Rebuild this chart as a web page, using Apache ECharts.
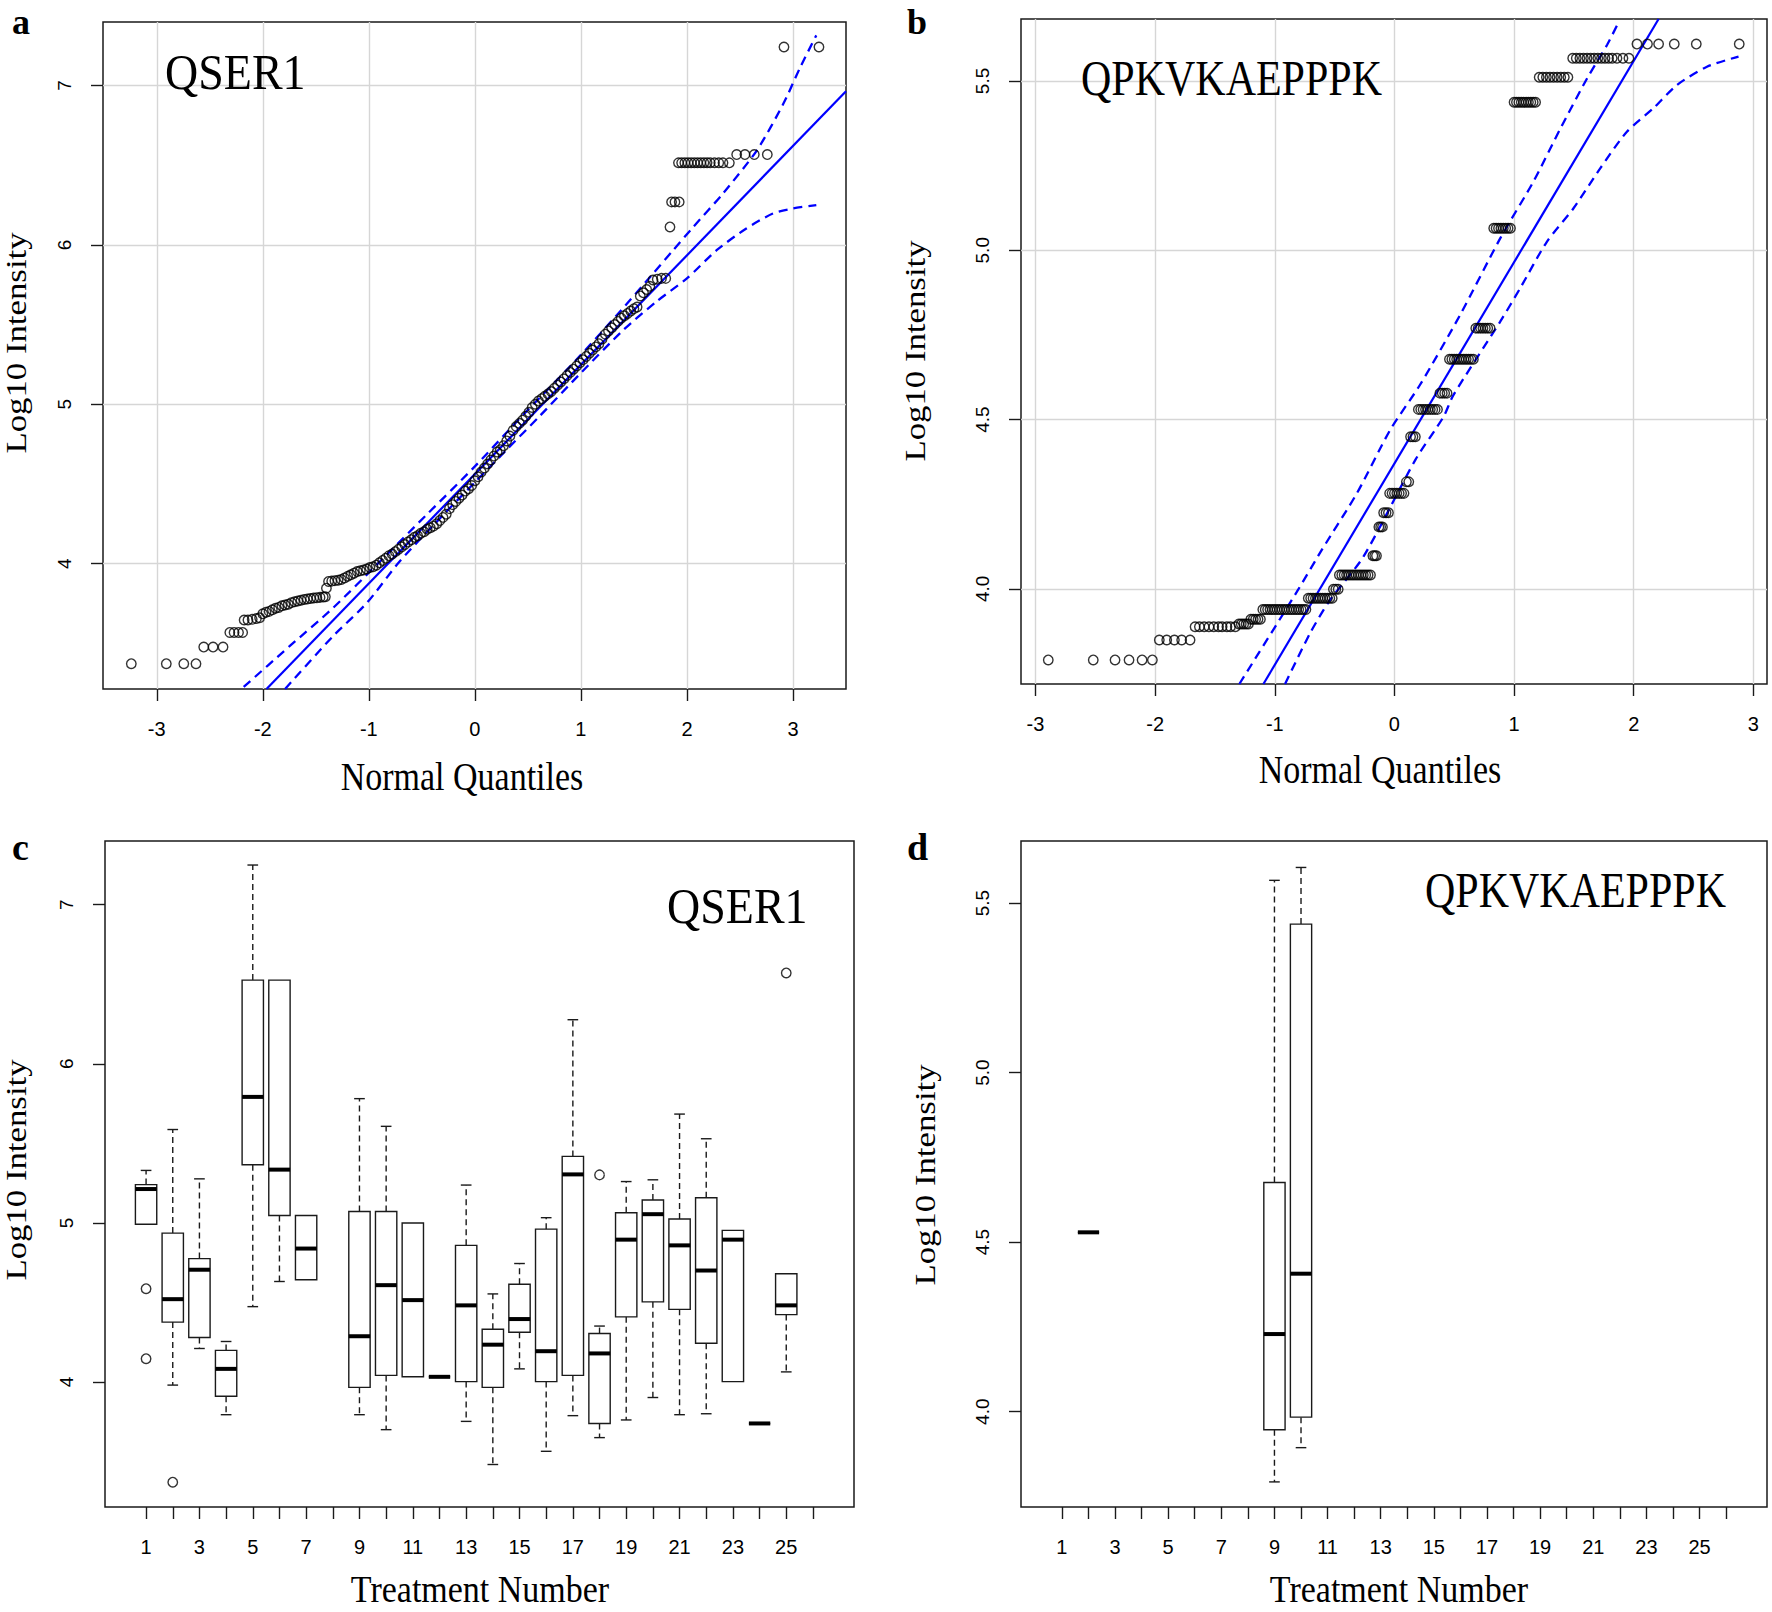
<!DOCTYPE html>
<html>
<head>
<meta charset="utf-8">
<script src="https://cdn.jsdelivr.net/npm/echarts@6/dist/echarts.min.js"></script>
<style>
html,body{margin:0;padding:0;background:#fff;}
#chart{width:1772px;height:1612px;}
</style>
</head>
<body>
<div id="chart"></div>
<script>
// ---------------- DATA ----------------
// Tick values
const qqXTicks = [-3, -2, -1, 0, 1, 2, 3];
const qserYTicks = [4, 5, 6, 7];
const qpkYTicks = [4.0, 4.5, 5.0, 5.5];
const treatmentTicks = [1,2,3,4,5,6,7,8,9,10,11,12,13,14,15,16,17,18,19,20,21,22,23,24,25,26];
const treatmentLabels = [1,3,5,7,9,11,13,15,17,19,21,23,25];

// Panel a: QSER1 normal QQ points [normal quantile, log10 intensity]
const qserQQPoints = [
  [-3.24,3.372],[-2.91,3.372],[-2.745,3.372],[-2.63,3.372],
  [-2.557,3.476],[-2.469,3.476],[-2.375,3.476],
  [-2.311,3.568],[-2.271,3.568],[-2.229,3.568],[-2.19,3.568],
  [-2.176,3.646],[-2.14,3.646],[-2.10,3.650],[-2.06,3.655],[-2.03,3.66],
  [-2.00,3.685],[-1.97,3.695],[-1.94,3.70],[-1.91,3.71],[-1.88,3.72],[-1.85,3.725],[-1.82,3.735],
  [-1.79,3.74],[-1.76,3.745],[-1.73,3.755],[-1.70,3.76],[-1.67,3.765],[-1.64,3.77],[-1.61,3.775],
  [-1.58,3.778],[-1.55,3.781],[-1.52,3.784],[-1.49,3.786],[-1.46,3.788],[-1.43,3.79],[-1.41,3.792],
  [-1.40,3.846],[-1.38,3.888],[-1.35,3.890],[-1.32,3.893],[-1.29,3.896],[-1.26,3.90],[-1.23,3.91],
  [-1.20,3.92],[-1.17,3.93],[-1.14,3.94],[-1.11,3.95],[-1.08,3.955],[-1.05,3.96],[-1.02,3.966],
  [-0.99,3.975],[-0.96,3.98],[-0.93,3.99],[-0.90,4.005],[-0.87,4.02],[-0.84,4.034],[-0.81,4.05],
  [-0.78,4.06],[-0.75,4.075],[-0.72,4.09],[-0.69,4.105],[-0.66,4.12],[-0.63,4.135],[-0.60,4.15],
  [-0.57,4.165],[-0.54,4.175],[-0.51,4.19],[-0.48,4.20],[-0.45,4.215],[-0.42,4.225],[-0.39,4.235],
  [-0.36,4.25],[-0.33,4.27],[-0.30,4.29],[-0.27,4.31],[-0.24,4.345],[-0.21,4.37],[-0.18,4.39],
  [-0.15,4.41],[-0.12,4.43],[-0.09,4.455],[-0.06,4.47],[-0.03,4.49],[0.0,4.52],[0.03,4.545],
  [0.06,4.575],[0.09,4.60],[0.12,4.625],[0.15,4.65],[0.18,4.675],[0.21,4.70],[0.24,4.715],
  [0.27,4.74],[0.30,4.77],[0.33,4.80],[0.36,4.835],[0.39,4.86],[0.42,4.88],[0.45,4.90],
  [0.48,4.925],[0.51,4.95],[0.54,4.98],[0.57,5.00],[0.60,5.02],[0.63,5.035],[0.66,5.05],
  [0.69,5.065],[0.72,5.08],[0.75,5.10],[0.78,5.12],[0.81,5.14],[0.84,5.16],[0.87,5.18],
  [0.90,5.20],[0.93,5.22],[0.96,5.24],[0.99,5.26],[1.02,5.28],[1.05,5.30],[1.08,5.32],
  [1.11,5.34],[1.14,5.36],[1.17,5.38],[1.20,5.41],[1.23,5.44],[1.26,5.46],[1.29,5.48],
  [1.32,5.50],[1.35,5.52],[1.38,5.54],[1.41,5.555],[1.44,5.57],[1.47,5.585],[1.50,5.60],
  [1.53,5.61],[1.56,5.68],[1.59,5.70],[1.62,5.72],[1.65,5.74],[1.68,5.78],[1.72,5.785],
  [1.76,5.79],[1.80,5.79],
  [1.84,6.113],[1.855,6.27],[1.887,6.27],[1.927,6.27],
  [1.92,6.515],[1.95,6.515],[1.98,6.515],[2.01,6.515],[2.04,6.515],[2.07,6.515],[2.10,6.515],
  [2.13,6.515],[2.16,6.515],[2.19,6.515],[2.22,6.515],[2.26,6.515],[2.30,6.515],[2.34,6.515],[2.40,6.515],
  [2.469,6.567],[2.547,6.567],[2.635,6.567],[2.758,6.567],
  [2.915,7.242],[3.245,7.242]
];
const qserQQLine = [[-1.965,3.213],[3.5,6.964]];
const qserQQUpper = [[-2.18,3.226],[-1.75,3.48],[-1.34,3.72],[-0.9,4.01],[-0.45,4.31],[0,4.61],[0.45,4.93],
  [0.93,5.26],[1.34,5.56],[1.68,5.82],[1.87,5.967],[2.06,6.113],[2.34,6.323],[2.66,6.594],
  [2.91,6.887],[3.07,7.117],[3.22,7.315]];
const qserQQLower = [[-1.79,3.213],[-1.34,3.543],[-1.02,3.752],[-0.71,4.013],[-0.3,4.305],[0,4.51],
  [0.3,4.715],[0.61,4.925],[0.99,5.19],[1.4,5.466],[1.71,5.643],[2.0,5.79],[2.28,5.967],
  [2.56,6.103],[2.81,6.197],[3.0,6.229],[3.22,6.25]];

// Panel b: QPKVKAEPPPK normal QQ points
const qpkQQPoints = [
  [-2.893,3.79],[-2.517,3.79],[-2.335,3.79],[-2.218,3.79],[-2.109,3.79],[-2.023,3.79],
  [-1.965,3.849],[-1.903,3.849],[-1.839,3.849],[-1.778,3.849],[-1.708,3.849],
  [-1.666,3.888],[-1.63,3.888],[-1.59,3.888],[-1.55,3.888],[-1.51,3.888],[-1.47,3.888],
  [-1.44,3.888],[-1.40,3.888],[-1.37,3.888],[-1.33,3.888],
  [-1.30,3.896],[-1.28,3.896],[-1.26,3.896],[-1.24,3.896],[-1.22,3.896],
  [-1.20,3.91],[-1.18,3.91],[-1.16,3.91],[-1.14,3.91],[-1.12,3.91],
  [-1.10,3.939],[-1.08,3.939],[-1.06,3.939],[-1.04,3.939],[-1.02,3.939],[-1.00,3.939],[-0.98,3.939],
  [-0.96,3.939],[-0.94,3.939],[-0.92,3.939],[-0.90,3.939],[-0.88,3.939],[-0.86,3.939],[-0.84,3.939],
  [-0.82,3.939],[-0.80,3.939],[-0.78,3.939],[-0.76,3.939],[-0.74,3.939],
  [-0.72,3.972],[-0.70,3.972],[-0.68,3.972],[-0.66,3.972],[-0.64,3.972],[-0.62,3.972],[-0.60,3.972],
  [-0.58,3.972],[-0.56,3.972],[-0.54,3.972],[-0.52,3.972],
  [-0.51,3.999],[-0.49,3.999],[-0.47,3.999],
  [-0.46,4.041],[-0.44,4.041],[-0.42,4.041],[-0.40,4.041],[-0.38,4.041],[-0.36,4.041],[-0.34,4.041],
  [-0.32,4.041],[-0.30,4.041],[-0.28,4.041],[-0.26,4.041],[-0.24,4.041],[-0.22,4.041],[-0.20,4.041],
  [-0.18,4.098],[-0.165,4.098],[-0.15,4.098],
  [-0.13,4.183],[-0.115,4.183],[-0.10,4.183],
  [-0.09,4.225],[-0.07,4.225],[-0.05,4.225],
  [-0.04,4.282],[-0.02,4.282],[0.0,4.282],[0.02,4.282],[0.04,4.282],[0.06,4.282],[0.08,4.282],
  [0.10,4.316],[0.12,4.316],
  [0.135,4.449],[0.155,4.449],[0.175,4.449],
  [0.20,4.53],[0.22,4.53],[0.24,4.53],[0.26,4.53],[0.28,4.53],[0.30,4.53],[0.32,4.53],[0.34,4.53],[0.36,4.53],
  [0.38,4.578],[0.40,4.578],[0.42,4.578],[0.44,4.578],
  [0.46,4.678],[0.48,4.678],[0.50,4.678],[0.52,4.678],[0.54,4.678],[0.56,4.678],[0.58,4.678],
  [0.60,4.678],[0.62,4.678],[0.64,4.678],[0.66,4.678],
  [0.68,4.77],[0.70,4.77],[0.72,4.77],[0.74,4.77],[0.76,4.77],[0.78,4.77],[0.80,4.77],
  [0.83,5.065],[0.85,5.065],[0.87,5.065],[0.89,5.065],[0.91,5.065],[0.93,5.065],[0.95,5.065],[0.97,5.065],
  [1.00,5.437],[1.02,5.437],[1.04,5.437],[1.06,5.437],[1.08,5.437],[1.10,5.437],[1.12,5.437],
  [1.14,5.437],[1.16,5.437],[1.18,5.437],
  [1.21,5.511],[1.24,5.511],[1.27,5.511],[1.30,5.511],[1.33,5.511],[1.36,5.511],[1.39,5.511],
  [1.42,5.511],[1.45,5.511],
  [1.49,5.567],[1.52,5.567],[1.55,5.567],[1.58,5.567],[1.61,5.567],[1.64,5.567],[1.67,5.567],
  [1.70,5.567],[1.73,5.567],[1.76,5.567],[1.79,5.567],[1.82,5.567],[1.86,5.567],[1.91,5.567],[1.96,5.567],
  [2.027,5.609],[2.115,5.609],[2.208,5.609],[2.339,5.609],[2.523,5.609],[2.882,5.609]
];
const qpkQQLine = [[-1.095,3.719],[2.208,5.683]];
const qpkQQUpper = [[-1.296,3.719],[-0.816,3.991],[-0.607,4.115],[-0.314,4.282],[-0.036,4.469],
  [0.213,4.602],[0.549,4.809],[0.884,5.035],[1.162,5.203],[1.388,5.36],[1.611,5.508],
  [1.778,5.607],[1.876,5.675]];
const qpkQQLower = [[-0.914,3.719],[-0.705,3.869],[-0.538,3.967],[-0.259,4.095],[0.175,4.381],
  [0.41,4.508],[0.494,4.573],[0.884,4.789],[1.051,4.888],[1.274,5.025],[1.497,5.124],
  [1.72,5.242],[1.943,5.35],[2.166,5.42],[2.361,5.488],[2.612,5.542],[2.876,5.572]];

// Panel c: QSER1 boxplots per treatment [treatment, lowerWhisker, Q1, median, Q3, upperWhisker]
const qserBoxes = [
  [1, 4.992, 4.992, 5.213, 5.241, 5.330],
  [2, 3.981, 4.377, 4.521, 4.936, 5.587],
  [3, 4.211, 4.280, 4.706, 4.776, 5.277],
  [4, 3.795, 3.911, 4.083, 4.199, 4.255],
  [5, 4.474, 5.366, 5.792, 6.526, 7.249],
  [6, 4.632, 5.047, 5.335, 6.526, 6.526],
  [7, 4.643, 4.643, 4.839, 5.047, 5.047],
  [9, 3.795, 3.967, 4.288, 5.072, 5.781],
  [10, 3.701, 4.042, 4.609, 5.072, 5.607],
  [11, 4.033, 4.033, 4.515, 5.000, 5.000],
  [12, 4.033, 4.033, 4.033, 4.033, 4.033],
  [13, 3.753, 4.003, 4.482, 4.859, 5.238],
  [14, 3.482, 3.967, 4.235, 4.332, 4.554],
  [15, 4.083, 4.313, 4.396, 4.615, 4.745],
  [16, 3.565, 4.003, 4.194, 4.961, 5.033],
  [17, 3.789, 4.042, 5.305, 5.418, 6.277],
  [18, 3.651, 3.740, 4.180, 4.305, 4.352],
  [19, 3.762, 4.410, 4.895, 5.064, 5.260],
  [20, 3.903, 4.504, 5.055, 5.144, 5.271],
  [21, 3.795, 4.457, 4.859, 5.025, 5.684],
  [22, 3.801, 4.244, 4.701, 5.158, 5.529],
  [23, 4.003, 4.003, 4.895, 4.953, 4.953],
  [24, 3.740, 3.740, 3.740, 3.740, 3.740],
  [25, 4.064, 4.424, 4.482, 4.681, 4.681]
];
const qserOutliers = [[1,4.587],[1,4.147],[2,3.371],[18,5.302],[25,6.571]];

// Panel d: QPKVKAEPPPK boxplots
const qpkBoxes = [
  [2, 4.529, 4.529, 4.529, 4.529, 4.529],
  [9, 3.793, 3.947, 4.229, 4.676, 5.567],
  [10, 3.894, 3.984, 4.407, 5.438, 5.605]
];
const qpkOutliers = [];

// ---------------- CHART ----------------
const INK = '#1a1a1a';
const BLUE = '#0000ff';
const SERIF = '"Liberation Serif","Times New Roman",serif';
const SANS = '"Liberation Sans",Arial,sans-serif';

const chart = echarts.init(document.getElementById('chart'), null, {renderer: 'svg'});

function grid(left, top, width, height) {
  return {left, top, width, height, show: true, borderColor: INK, borderWidth: 1.5,
    backgroundColor: 'rgba(0,0,0,0)', containLabel: false, outerBoundsMode: 'none'};
}
function xAxis(gi, min, max, ticks, labels, gridOn) {
  return {
    type: 'value', gridIndex: gi, min, max, position: 'bottom',
    axisLine: {show: false, onZero: false},
    axisTick: {show: true, inside: false, length: 12, customValues: ticks, lineStyle: {color: INK, width: 1.4}},
    axisLabel: {show: true, customValues: labels, margin: 30, fontSize: 20, fontFamily: SANS, color: '#000'},
    splitLine: {show: gridOn, lineStyle: {color: '#d6d6d6', width: 1.4, type: 'solid'}},
    splitArea: {show: false}
  };
}
function yAxis(gi, min, max, ticks, fmt, gridOn) {
  return {
    type: 'value', gridIndex: gi, min, max, position: 'left',
    axisLine: {show: false, onZero: false},
    axisTick: {show: true, inside: false, length: 12, customValues: ticks, lineStyle: {color: INK, width: 1.4}},
    axisLabel: {show: true, customValues: ticks, rotate: 90, margin: 29, fontSize: 19, fontFamily: SANS, color: '#000',
      formatter: fmt},
    splitLine: {show: gridOn, lineStyle: {color: '#d6d6d6', width: 1.4, type: 'solid'}},
    splitArea: {show: false}
  };
}

const pointStyle = {color: 'rgba(0,0,0,0)', borderColor: '#000', borderWidth: 1.4};
function qqSeries(gi, pts, line, upper, lower) {
  return [
    {type: 'line', xAxisIndex: gi, yAxisIndex: gi, data: upper, showSymbol: false, smooth: 0.25, clip: true,
      lineStyle: {color: BLUE, width: 2.3, type: [9, 6]}, z: 3, silent: true},
    {type: 'line', xAxisIndex: gi, yAxisIndex: gi, data: lower, showSymbol: false, smooth: 0.25, clip: true,
      lineStyle: {color: BLUE, width: 2.3, type: [9, 6]}, z: 3, silent: true},
    {type: 'line', xAxisIndex: gi, yAxisIndex: gi, data: line, showSymbol: false, clip: true,
      lineStyle: {color: BLUE, width: 2.2, type: 'solid'}, z: 3, silent: true},
    {type: 'scatter', xAxisIndex: gi, yAxisIndex: gi, data: pts, symbol: 'circle', symbolSize: 9.5,
      itemStyle: pointStyle, z: 4, silent: true}
  ];
}

function boxRender(params, api) {
  const x = api.value(0);
  const P = i => api.coord([x, api.value(i)]);
  const lo = P(1), q1 = P(2), md = P(3), q3 = P(4), hi = P(5);
  const cx = md[0];
  const hw = api.size([0.8, 0])[0] / 2;
  const cw = api.size([0.4, 0])[0] / 2;
  const dash = {stroke: INK, lineWidth: 1.4, lineDash: [6, 4], fill: null};
  const solid = {stroke: INK, lineWidth: 1.4, fill: null};
  const ch = [];
  if (q3[1] - hi[1] > 0.5) {
    ch.push({type: 'line', shape: {x1: cx, y1: q3[1], x2: cx, y2: hi[1]}, style: dash});
    ch.push({type: 'line', shape: {x1: cx - cw, y1: hi[1], x2: cx + cw, y2: hi[1]}, style: solid});
  }
  if (lo[1] - q1[1] > 0.5) {
    ch.push({type: 'line', shape: {x1: cx, y1: q1[1], x2: cx, y2: lo[1]}, style: dash});
    ch.push({type: 'line', shape: {x1: cx - cw, y1: lo[1], x2: cx + cw, y2: lo[1]}, style: solid});
  }
  ch.push({type: 'rect', shape: {x: cx - hw, y: q3[1], width: 2 * hw, height: q1[1] - q3[1]},
    style: {fill: '#fff', stroke: INK, lineWidth: 1.4}});
  ch.push({type: 'line', shape: {x1: cx - hw, y1: md[1], x2: cx + hw, y2: md[1]},
    style: {stroke: '#000', lineWidth: 4}});
  return {type: 'group', children: ch};
}
function boxSeries(gi, boxes, outliers) {
  return [
    {type: 'custom', xAxisIndex: gi, yAxisIndex: gi, data: boxes, renderItem: boxRender, clip: true,
      encode: {x: 0, y: [1, 2, 3, 4, 5]}, z: 3, silent: true},
    {type: 'scatter', xAxisIndex: gi, yAxisIndex: gi, data: outliers, symbol: 'circle', symbolSize: 9.5,
      itemStyle: pointStyle, z: 4, silent: true}
  ];
}

function txt(text, x, y, size, opts) {
  opts = opts || {};
  const style = {text, fill: '#000', font: (opts.bold ? 'bold ' : '') + size + 'px ' + SERIF,
    textAlign: opts.align || 'left', textVerticalAlign: 'middle'};
  return {
    type: 'text', x, y, rotation: opts.rot || 0, scaleX: opts.sx || 1, scaleY: opts.sy || 1, z: 100, silent: true,
    style
  };
}
// baseline helper: middle = baseline - 0.3375*size*scale
function bl(b, size, s) { return b - 0.3375 * size * (s || 1); }

const fmt1 = v => Number(v).toFixed(1);
const fmt0 = v => String(Math.round(v));

const option = {
  animation: false,
  backgroundColor: '#fff',
  grid: [
    grid(103, 22, 743, 667),
    grid(1021, 19, 746, 665),
    grid(105, 841, 749, 666),
    grid(1021, 841, 746, 666)
  ],
  xAxis: [
    xAxis(0, -3.507, 3.5, qqXTicks, qqXTicks, true),
    xAxis(1, -3.121, 3.114, qqXTicks, qqXTicks, true),
    xAxis(2, -0.54, 27.54, treatmentTicks, treatmentLabels, false),
    xAxis(3, -0.54, 27.54, treatmentTicks, treatmentLabels, false)
  ],
  yAxis: [
    yAxis(0, 3.213, 7.399, qserYTicks, fmt0, true),
    yAxis(1, 3.719, 5.683, qpkYTicks, fmt1, true),
    yAxis(2, 3.215, 7.40, qserYTicks, fmt0, false),
    yAxis(3, 3.719, 5.683, qpkYTicks, fmt1, false)
  ],
  series: [].concat(
    qqSeries(0, qserQQPoints, qserQQLine, qserQQUpper, qserQQLower),
    qqSeries(1, qpkQQPoints, qpkQQLine, qpkQQUpper, qpkQQLower),
    boxSeries(2, qserBoxes, qserOutliers),
    boxSeries(3, qpkBoxes, qpkOutliers)
  ),
  graphic: [
    txt('a', 12, 22, 36, {bold: true}),
    txt('b', 907, 22, 36, {bold: true}),
    txt('c', 12, bl(860, 38), 38, {bold: true}),
    txt('d', 907, bl(860, 38), 38, {bold: true}),
    txt('QSER1', 165, bl(89, 46, 1.12), 46, {sy: 1.12}),
    txt('QPKVKAEPPPK', 1081, bl(95, 42, 1.2), 42, {sy: 1.2}),
    txt('QSER1', 667, bl(923, 46, 1.12), 46, {sy: 1.12}),
    txt('QPKVKAEPPPK', 1425, bl(907, 42, 1.2), 42, {sy: 1.2}),
    txt('Normal Quantiles', 462, bl(790, 34, 1.15), 34, {align: 'center', sy: 1.15}),
    txt('Normal Quantiles', 1380, bl(783, 34, 1.15), 34, {align: 'center', sy: 1.15}),
    txt('Treatment Number', 480, 1589, 34, {align: 'center', sy: 1.1}),
    txt('Treatment Number', 1399, 1589, 34, {align: 'center', sy: 1.1}),
    txt('Log10 Intensity', 16, 343, 29, {align: 'center', rot: Math.PI / 2, sx: 1.2}),
    txt('Log10 Intensity', 915, 351, 29, {align: 'center', rot: Math.PI / 2, sx: 1.2}),
    txt('Log10 Intensity', 16, 1170, 29, {align: 'center', rot: Math.PI / 2, sx: 1.2}),
    txt('Log10 Intensity', 925, 1175, 29, {align: 'center', rot: Math.PI / 2, sx: 1.2})
  ]
};
chart.setOption(option);
</script>
</body>
</html>
